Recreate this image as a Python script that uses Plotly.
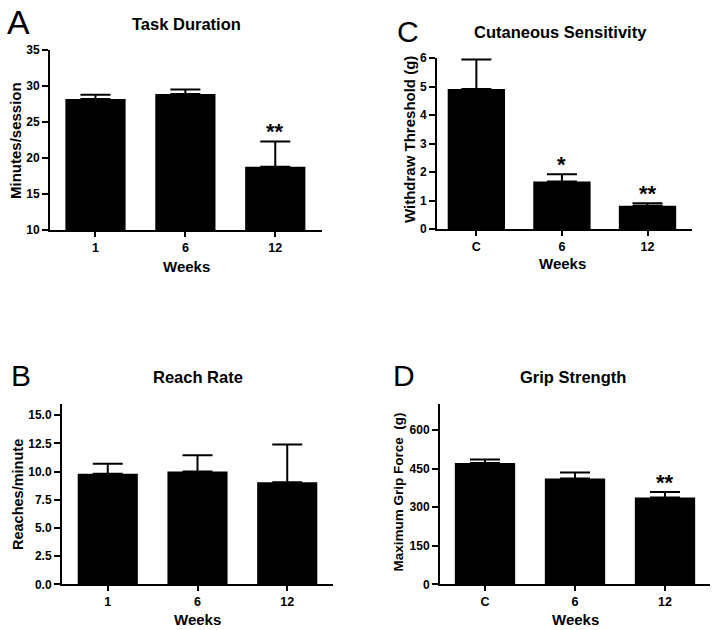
import plotly.graph_objects as go

W, H = 717, 630

# ---------------- data ----------------
weeks_a = ["1", "6", "12"]
task_duration = [28.2, 28.9, 18.8]
task_duration_err = [0.6, 0.6, 3.5]
task_duration_sig = ["", "", "**"]

weeks_b = ["1", "6", "12"]
reach_rate = [9.8, 10.0, 9.05]
reach_rate_err = [0.9, 1.45, 3.35]
reach_rate_sig = ["", "", ""]

weeks_c = ["C", "6", "12"]
cutaneous = [4.91, 1.67, 0.82]
cutaneous_err = [1.04, 0.25, 0.08]
cutaneous_sig = ["", "*", "**"]

weeks_d = ["C", "6", "12"]
grip = [472, 411, 338]
grip_err = [13, 24, 21]
grip_sig = ["", "", "**"]

ticks_a = [10, 15, 20, 25, 30, 35]
ticks_b = [0, 2.5, 5, 7.5, 10, 12.5, 15]
ticks_c = [0, 1, 2, 3, 4, 5, 6]
ticks_d = [0, 150, 300, 450, 600]

FONT = "Liberation Sans, Arial, sans-serif"


def px_x(p):
    return p / W


def px_y(p):
    return 1 - p / H


panels = [
    dict(cats=weeks_a, vals=task_duration, errs=task_duration_err, sig=task_duration_sig,
         ticks=ticks_a, fmt="d", yr=[10, 35], xr=[-0.506, 2.52],
         xd=(50, 322), yd=(230, 50), title="Task Duration", tpos=(186, 24),
         letter="A", lpos=(18.5, 22.5), lsize=34,
         ytitle="Minutes/session", ytpos=(15, 141), ytsize=15, wpos=(186, 266)),
    dict(cats=weeks_b, vals=reach_rate, errs=reach_rate_err, sig=reach_rate_sig,
         ticks=ticks_b, fmt=".1f", yr=[0, 16], xr=[-0.51, 2.51],
         xd=(62, 333), yd=(584.3, 404), title="Reach Rate", tpos=(198, 377),
         letter="B", lpos=(21, 375), lsize=30,
         ytitle="Reaches/minute", ytpos=(18, 495), ytsize=14.5, wpos=(197, 619)),
    dict(cats=weeks_c, vals=cutaneous, errs=cutaneous_err, sig=cutaneous_sig,
         ticks=ticks_c, fmt="d", yr=[0, 6], xr=[-0.46, 2.52],
         xd=(437, 692), yd=(229, 58), title="Cutaneous Sensitivity", tpos=(560, 32),
         letter="C", lpos=(408, 31), lsize=30,
         ytitle="Withdraw Threshold (g)", ytpos=(409, 140), ytsize=15, wpos=(562, 263)),
    dict(cats=weeks_d, vals=grip, errs=grip_err, sig=grip_sig,
         ticks=ticks_d, fmt="d", yr=[0, 700], xr=[-0.5, 2.5],
         xd=(440, 710), yd=(584.3, 404.3), title="Grip Strength", tpos=(573, 377),
         letter="D", lpos=(404, 375), lsize=30,
         ytitle="Maximum Grip Force\u00a0\u00a0(g)", ytpos=(398, 492.5), ytsize=13.5,
         wpos=(575, 619)),
]

fig = go.Figure()
annotations = []
layout = {}

for i, p in enumerate(panels, start=1):
    xa = "x" if i == 1 else f"x{i}"
    ya = "y" if i == 1 else f"y{i}"
    fig.add_trace(go.Bar(
        x=p["cats"], y=p["vals"], xaxis=xa, yaxis=ya,
        marker=dict(color="black", line=dict(width=0)),
        width=0.67,
        error_y=dict(type="data", array=p["errs"], arrayminus=[0] * len(p["errs"]),
                     symmetric=False, color="black", thickness=2, width=15),
        showlegend=False, hoverinfo="skip",
    ))
    xkey = "xaxis" if i == 1 else f"xaxis{i}"
    ykey = "yaxis" if i == 1 else f"yaxis{i}"
    layout[xkey] = dict(
        domain=[px_x(p["xd"][0]), px_x(p["xd"][1])], anchor=ya, type="category",
        range=p["xr"], showline=True, linecolor="black", linewidth=2,
        ticks="outside", ticklen=5, tickwidth=2, tickcolor="black",
        showgrid=False, zeroline=False, automargin=False,
        tickfont=dict(family=FONT, size=12.5, color="black", weight="bold"),
    )
    layout[ykey] = dict(
        domain=[px_y(p["yd"][0]), px_y(p["yd"][1])], anchor=xa,
        range=p["yr"], tickvals=p["ticks"], tickformat=p["fmt"],
        showline=True, linecolor="black", linewidth=2,
        ticks="outside", ticklen=6, tickwidth=2, tickcolor="black",
        showgrid=False, zeroline=False, automargin=False,
        tickfont=dict(family=FONT, size=12, color="black", weight="bold"),
    )
    annotations.append(dict(text=p["title"], x=px_x(p["tpos"][0]), y=px_y(p["tpos"][1]),
                            xref="paper", yref="paper", showarrow=False,
                            xanchor="center", yanchor="middle",
                            font=dict(family=FONT, size=16.5, color="black", weight="bold")))
    annotations.append(dict(text=p["letter"], x=px_x(p["lpos"][0]), y=px_y(p["lpos"][1]),
                            xref="paper", yref="paper", showarrow=False,
                            xanchor="center", yanchor="middle",
                            font=dict(family=FONT, size=p["lsize"], color="black")))
    annotations.append(dict(text=p["ytitle"], x=px_x(p["ytpos"][0]), y=px_y(p["ytpos"][1]),
                            xref="paper", yref="paper", showarrow=False, textangle=-90,
                            xanchor="center", yanchor="middle",
                            font=dict(family=FONT, size=p["ytsize"], color="black",
                                      weight="bold")))
    annotations.append(dict(text="Weeks", x=px_x(p["wpos"][0]), y=px_y(p["wpos"][1]),
                            xref="paper", yref="paper", showarrow=False,
                            xanchor="center", yanchor="middle",
                            font=dict(family=FONT, size=15, color="black", weight="bold")))
    for j, (v, e, s) in enumerate(zip(p["vals"], p["errs"], p["sig"])):
        if s:
            annotations.append(dict(text=s, x=j, y=v + e, xref=xa, yref=ya,
                                    showarrow=False, xanchor="center", yanchor="bottom",
                                    yshift=-5,
                                    font=dict(family=FONT, size=22, color="black",
                                              weight="bold")))

fig.update_layout(
    template="none",
    width=W, height=H, autosize=False,
    margin=dict(l=0, r=0, t=0, b=0, pad=0, autoexpand=False),
    paper_bgcolor="white", plot_bgcolor="white",
    annotations=annotations,
    **layout,
)

fig.write_html("out.html", config={"displayModeBar": False},
               post_script="document.body.style.margin='0';")
